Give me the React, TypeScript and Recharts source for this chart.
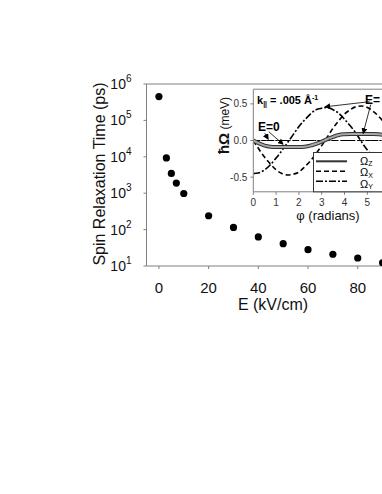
import { ScatterChart, Scatter, XAxis, YAxis, LineChart, Line, ReferenceLine } from "recharts";

const FONT = '"Liberation Sans", Arial, Helvetica, sans-serif';
const AXIS_GRAY = "#808080";

// main panel: spin relaxation time vs field
const fieldKvCm = [0, 3, 5, 7, 10, 20, 30, 40, 50, 60, 70, 80, 90];
const relaxPs = [450000, 9300, 3500, 1900, 980, 240, 115, 63, 41, 28, 21, 16.6, 12.3];
const fieldTicks = [0, 20, 40, 60, 80];
const timeTicks = [10, 100, 1000, 10000, 100000, 1000000];

// inset: precession vector components vs angle
const phiRad = [0, 0.25, 0.5, 0.75, 1, 1.25, 1.5, 1.75, 2, 2.25, 2.5, 2.75, 3, 3.25, 3.5, 3.75, 4, 4.25, 4.5, 4.75, 5, 5.25, 5.5, 5.75, 6, 6.25];
const omegaX = [0, -0.12, -0.23, -0.32, -0.4, -0.45, -0.47, -0.46, -0.43, -0.36, -0.28, -0.18, -0.07, 0.05, 0.17, 0.27, 0.36, 0.42, 0.46, 0.47, 0.45, 0.4, 0.33, 0.24, 0.13, 0.02];
const omegaY = [-0.45, -0.44, -0.4, -0.33, -0.24, -0.14, -0.03, 0.08, 0.19, 0.28, 0.36, 0.42, 0.44, 0.45, 0.42, 0.37, 0.29, 0.2, 0.1, -0.02, -0.13, -0.23, -0.32, -0.39, -0.43, -0.45];
const omegaZ = [0, -0.04, -0.07, -0.085, -0.09, -0.09, -0.09, -0.09, -0.09, -0.085, -0.07, -0.045, -0.015, 0.02, 0.05, 0.075, 0.085, 0.09, 0.09, 0.09, 0.09, 0.09, 0.085, 0.07, 0.04, 0.01];
const phiFlat = [0, 6.28];
const omegaFlatE0 = [0, 0];
const phiTicks = [0, 1, 2, 3, 4, 5];
const omegaTicks = [-0.5, 0, 0.5];
const legendSubs = ["Z", "X", "Y"];

const mainRows = fieldKvCm.map((e, i) => ({ E: e, tau: relaxPs[i] }));
const insetRows = phiRad.map((p, i) => ({ phi: p, wx: omegaX[i], wy: omegaY[i], wz: omegaZ[i] }));
const flatRows = phiFlat.map((p, i) => ({ phi: p, w0: omegaFlatE0[i] }));

function PowerTick({ x, y, payload }: any) {
  const exp = Math.round(Math.log10(payload.value));
  return (
    <text x={x} y={y} textAnchor="end" fontFamily={FONT} fontSize={14} fill="#111">
      <tspan dy={5}>10</tspan>
      <tspan dy={-7} fontSize={10}>{exp}</tspan>
    </text>
  );
}

const dot = (p: any) => <circle cx={p.cx} cy={p.cy} r={3.6} fill="#000" />;

export default function App() {
  return (
    <div style={{ position: "absolute", left: 0, top: 0, width: 382, height: 494, overflow: "hidden", background: "#fff" }}>
      <div style={{ position: "absolute", left: 0, top: 0 }}>
        <ScatterChart width={420} height={330} margin={{ top: 84, right: 25, bottom: 34, left: 86.5 }}>
          <XAxis
            type="number"
            dataKey="E"
            domain={[-5, 95]}
            ticks={fieldTicks}
            height={30}
            tickSize={3}
            tickMargin={13}
            axisLine={{ stroke: AXIS_GRAY }}
            tickLine={{ stroke: AXIS_GRAY }}
            tick={{ fill: "#111", fontSize: 15, fontFamily: FONT }}
          />
          <YAxis
            type="number"
            dataKey="tau"
            scale="log"
            domain={[10, 1000000]}
            allowDataOverflow
            ticks={timeTicks}
            width={60}
            tickSize={3}
            tickMargin={12}
            axisLine={{ stroke: AXIS_GRAY }}
            tickLine={{ stroke: AXIS_GRAY }}
            tick={<PowerTick />}
          />
          <ReferenceLine y={1000000} stroke={AXIS_GRAY} ifOverflow="visible" />
          <ReferenceLine x={95} stroke={AXIS_GRAY} ifOverflow="visible" />
          <Scatter data={mainRows} shape={dot} isAnimationActive={false} />
        </ScatterChart>
      </div>

      <div style={{ position: "absolute", left: 200, top: 60 }}>
        <LineChart width={220} height={180} data={insetRows} margin={{ top: 29.2, right: 23.5, bottom: 28.2, left: 23.3 }}>
          <XAxis
            type="number"
            dataKey="phi"
            domain={[0, 6.28]}
            allowDataOverflow
            ticks={phiTicks}
            height={20}
            tickSize={3}
            tickMargin={4}
            axisLine={{ stroke: AXIS_GRAY }}
            tickLine={{ stroke: AXIS_GRAY }}
            tick={{ fill: "#333", fontSize: 10, fontFamily: FONT }}
          />
          <YAxis
            type="number"
            domain={[-0.7, 0.7]}
            allowDataOverflow
            ticks={omegaTicks}
            tickFormatter={(v: number) => v.toFixed(1)}
            width={30}
            tickSize={3}
            tickMargin={3}
            axisLine={{ stroke: AXIS_GRAY }}
            tickLine={{ stroke: AXIS_GRAY }}
            tick={{ fill: "#333", fontSize: 10, fontFamily: FONT }}
          />
          <ReferenceLine y={0.7} stroke={AXIS_GRAY} ifOverflow="visible" />
          <ReferenceLine x={6.28} stroke={AXIS_GRAY} ifOverflow="visible" />
          <Line data={flatRows} dataKey="w0" stroke="#000" strokeWidth={1.2} strokeDasharray="5 3" dot={false} isAnimationActive={false} />
          <Line data={flatRows} dataKey="w0" stroke="#000" strokeWidth={1.2} strokeDasharray="7 2 2 2" dot={false} isAnimationActive={false} />
          <Line type="monotone" dataKey="wx" stroke="#000" strokeWidth={1.6} strokeDasharray="5 3" dot={false} isAnimationActive={false} />
          <Line type="monotone" dataKey="wy" stroke="#000" strokeWidth={1.6} strokeDasharray="7 2 2 2" dot={false} isAnimationActive={false} />
          <Line type="monotone" dataKey="wz" stroke="#333" strokeWidth={4} dot={false} isAnimationActive={false} />
          <Line type="monotone" dataKey="wz" stroke="#a8a8a8" strokeWidth={2} dot={false} isAnimationActive={false} />
          <ReferenceLine segment={[{ x: 5.1, y: 0.53 }, { x: 3.15, y: 0.46 }]} stroke="#000" strokeWidth={0.8} markerEnd="url(#arrowHead)" ifOverflow="visible" />
          <ReferenceLine segment={[{ x: 5.15, y: 0.49 }, { x: 4.82, y: 0.1 }]} stroke="#000" strokeWidth={0.8} markerEnd="url(#arrowHead)" ifOverflow="visible" />
          <ReferenceLine segment={[{ x: 0.5, y: 0.1 }, { x: 0.65, y: 0.02 }]} stroke="#000" strokeWidth={0.8} markerEnd="url(#arrowHead)" ifOverflow="visible" />
          <ReferenceLine segment={[{ x: 0.68, y: 0.12 }, { x: 1.3, y: -0.05 }]} stroke="#000" strokeWidth={0.8} markerEnd="url(#arrowHead)" ifOverflow="visible" />
        </LineChart>
      </div>

      <svg width={382} height={494} style={{ position: "absolute", left: 0, top: 0, pointerEvents: "none" }} fontFamily={FONT}>
        <defs>
          <marker id="arrowHead" markerWidth="6" markerHeight="6" refX="5" refY="3" orient="auto" markerUnits="userSpaceOnUse">
            <path d="M0,0 L6,3 L0,6 z" fill="#000" />
          </marker>
        </defs>
        <text x={104.5} y={174} fontSize={16} textAnchor="middle" fill="#111" transform="rotate(-90 104.5 174)">
          Spin Relaxation Time (ps)
        </text>
        <text x={273} y={310} fontSize={16} textAnchor="middle" fill="#111">E (kV/cm)</text>

        <text x={228.5} y={125.5} textAnchor="middle" fill="#111" transform="rotate(-90 228.5 125.5)">
          <tspan fontSize={15} fontWeight="bold">ħΩ</tspan>
          <tspan fontSize={12}> (meV)</tspan>
        </text>
        <text x={328} y={220} fontSize={13} textAnchor="middle" fill="#111">φ (radians)</text>

        <text x={257} y={103.5} fontSize={11} fontWeight="bold" fill="#000">
          k<tspan fontSize={7} dy={2}>||</tspan>
          <tspan dy={-2}> = .005 Å</tspan>
          <tspan fontSize={7} dy={-4}>-1</tspan>
        </text>
        <text x={258} y={131} fontSize={12} fontWeight="bold" fill="#000">E=0</text>
        <text x={365} y={104} fontSize={12} fontWeight="bold" fill="#000">E=</text>

        <rect x={313.5} y={152.5} width={100} height={39.3} fill="#fff" stroke="#333" strokeWidth={1} />
        <line x1={316} x2={347} y1={161.3} y2={161.3} stroke="#333" strokeWidth={2} />
        <line x1={316} x2={347} y1={171.3} y2={171.3} stroke="#000" strokeWidth={1.5} strokeDasharray="5 3" />
        <line x1={316} x2={347} y1={181.3} y2={181.3} stroke="#000" strokeWidth={1.5} strokeDasharray="7 2 2 2" />
        <text x={360} y={154.5} fontSize={11} fill="#000">
          {legendSubs.map((s) => (
            <tspan key={s}>
              <tspan x={360} dy={10}>Ω</tspan>
              <tspan fontSize={7} dy={1.5}>{s}</tspan>
              <tspan dy={-1.5}>{""}</tspan>
            </tspan>
          ))}
        </text>
      </svg>
    </div>
  );
}
